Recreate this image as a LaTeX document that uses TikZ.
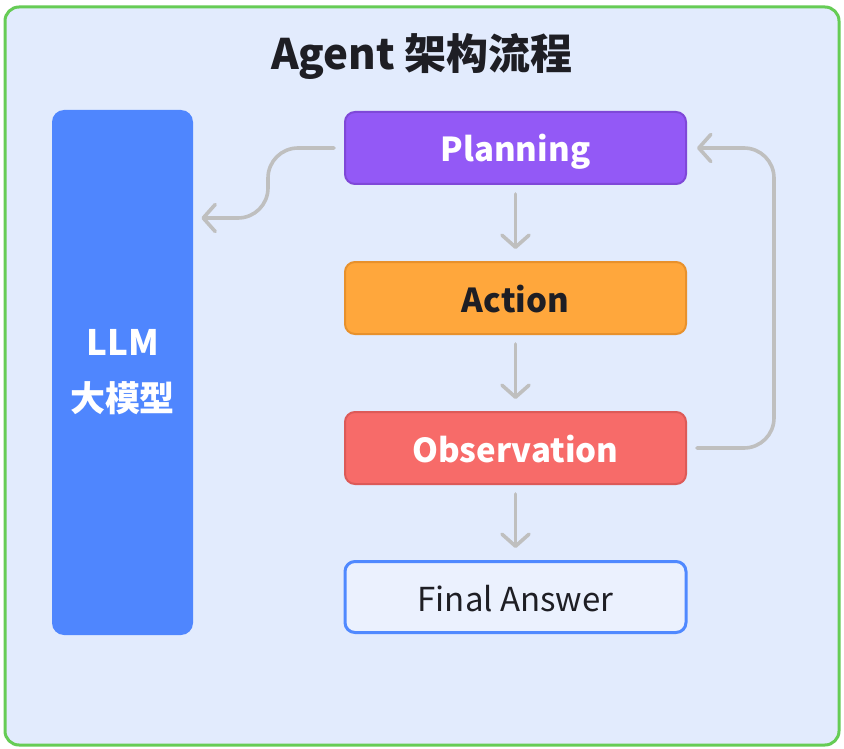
\documentclass[tikz,border=0pt]{standalone}
\usepackage{fontspec}
\setmainfont{Noto Sans CJK SC}
\usepackage{xcolor}
\usetikzlibrary{arrows.meta, positioning, calc}

\definecolor{panelbg}{HTML}{E2EBFD}
\definecolor{framegreen}{HTML}{66CC55}
\definecolor{llmblue}{HTML}{4F86FE}
\definecolor{planpurple}{HTML}{9359F6}
\definecolor{planborder}{HTML}{7F48D8}
\definecolor{actorange}{HTML}{FFA73C}
\definecolor{actborder}{HTML}{E8912C}
\definecolor{obsred}{HTML}{F76B69}
\definecolor{obsborder}{HTML}{DD5A58}
\definecolor{answerblue}{HTML}{5089FF}
\definecolor{arrowgray}{HTML}{BFBFBF}
\definecolor{textdark}{HTML}{1E1E24}

\begin{document}
\begin{tikzpicture}[x=1pt, y=-1pt, node distance=76pt, thick]
  \tikzstyle{stage} = [rectangle, rounded corners=10pt, line width=2pt, minimum width=341pt, minimum height=72pt, text height=28pt, text depth=0pt, font=\fontsize{33}{36}\selectfont\bfseries, text=white]
  \tikzstyle{flow} = [draw=arrowgray, line width=3.6pt, line cap=round, -{Straight Barb[length=12pt, width=27pt, round]}]

  \useasboundingbox (0,0) rectangle (844,749);
  \fill[white] (0,0) rectangle (844,749);
  \draw[framegreen, fill=panelbg, line width=3pt, rounded corners=14pt] (5,7) rectangle (839,745);

  \node[font=\fontsize{42}{45}\selectfont\bfseries, text=textdark] (Title) at (422,57) {Agent 架构流程};

  \node[rectangle, rounded corners=12pt, fill=llmblue, minimum width=141pt, minimum height=525pt, align=center, font=\fontsize{35}{56}\selectfont\bfseries, text=white] (LLM) at (122.5,372.5) {LLM\\大模型};

  \node[stage, fill=planpurple, draw=planborder] (Planning) at (515.5,148) {Planning};
  \node[stage, fill=actorange, draw=actborder, text=textdark, below=76pt of Planning] (Action) {Action};
  \node[stage, fill=obsred, draw=obsborder, below=76pt of Action] (Observation) {Observation};
  \node[stage, fill=panelbg!70!white, draw=answerblue, line width=3pt, minimum height=71pt, text=textdark, font=\fontsize{33}{36}\selectfont, below=75pt of Observation] (Answer) {Final Answer};

  \path[flow, shorten <=9pt, shorten >=12pt]
    (Planning) edge (Action)
    (Action) edge (Observation)
    (Observation) edge (Answer);

  % back to the model
  \coordinate (llmturn) at (268,218);
  \draw[flow, rounded corners=30pt] ([xshift=-10pt]Planning.west) -| (llmturn) -- ([xshift=8pt]LLM.east |- llmturn);

  % loop back to planning
  \draw[flow, rounded corners=30pt] ([xshift=10pt]Observation.east) -- ++(77,0) |- ([xshift=10pt]Planning.east);
\end{tikzpicture}
\end{document}
